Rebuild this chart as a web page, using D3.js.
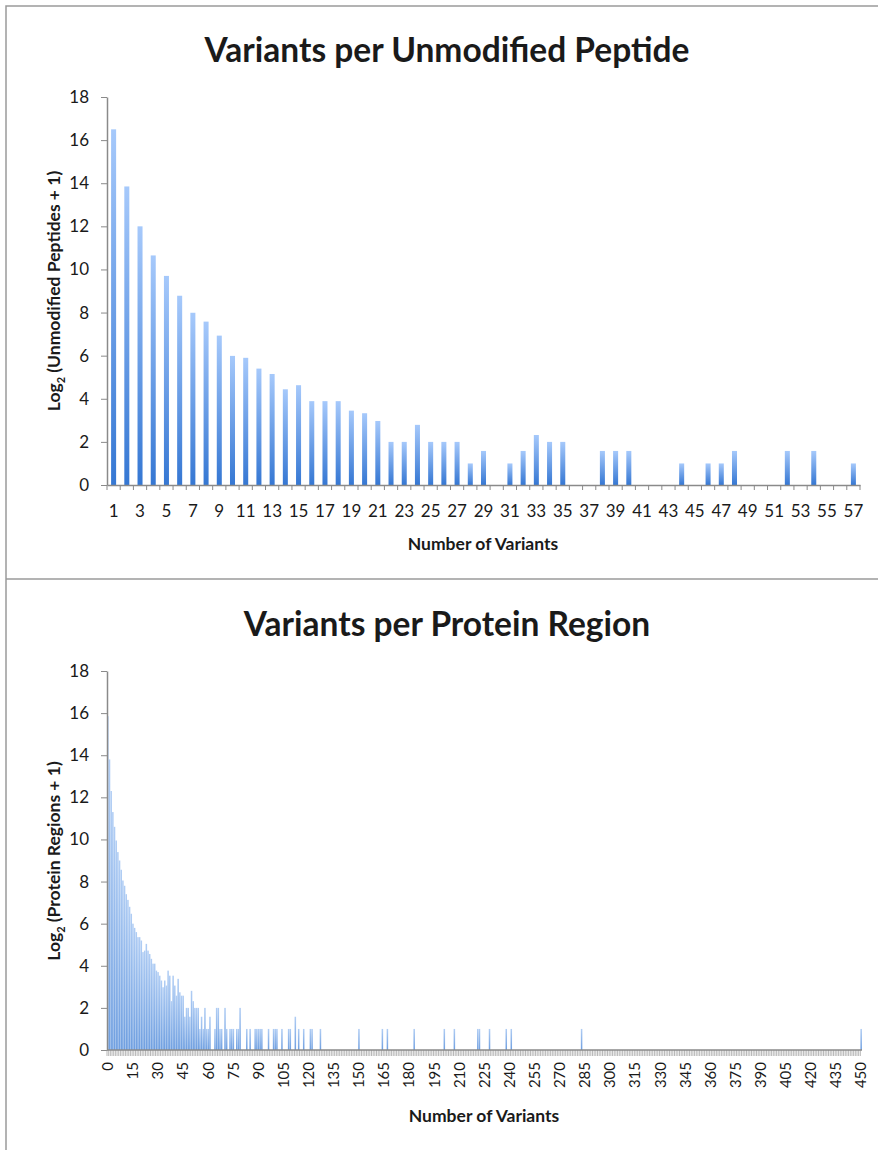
<!DOCTYPE html>
<html>
<head>
<meta charset="utf-8">
<script src="https://d3js.org/d3.v7.min.js"></script>
<style>
body { margin: 0; background: #fff; }
svg text { font-family: Lato, "Open Sans", sans-serif; fill: #1a1a1a; }
.title { font-size: 33.5px; font-weight: bold; }
.axis-title { font-size: 17.5px; font-weight: bold; }
.frame { stroke: #9a9a9a; stroke-width: 1.5px; fill: none; }
.axis path, .axis line { stroke: #8a8a8a; }
.axis path { stroke-width: 1.5px; }
.axis text { font-size: 17px; fill: #1a1a1a; }
.btick { stroke: #8a8a8a; stroke-width: 1px; }
.dtick { stroke: #9a9a9a; stroke-width: 0.7px; }
</style>
</head>
<body>
<script>

// top chart: variants per unmodified peptide
var peptideCounts = [1,2,3,4,5,6,7,8,9,10,11,12,13,14,15,16,17,18,19,20,
  21,22,23,24,25,26,27,28,29,30,31,32,33,34,35,36,37,38,39,40,
  41,42,43,44,45,46,47,48,49,50,51,52,53,54,55,56,57];
var peptideLog = [16.5, 13.85, 12.0, 10.65, 9.7, 8.78, 7.99, 7.58, 6.93, 5.99,
  5.9, 5.4, 5.15, 4.44, 4.63, 3.89, 3.89, 3.89, 3.45, 3.33,
  2.97, 2.0, 2.0, 2.79, 2.0, 2.0, 2.0, 1.0, 1.58, 0,
  1.0, 1.58, 2.32, 2.0, 2.0, 0, 0, 1.58, 1.58, 1.58,
  0, 0, 0, 1.0, 0, 1.0, 1.0, 1.58, 0, 0,
  0, 1.58, 0, 1.58, 0, 0, 1.0];

// bottom chart: variants per protein region (0..127 read bar by bar)
var regionHead = [15.85, 13.8, 12.3, 11.3, 10.6, 9.95, 9.4, 9.0, 8.56, 8.05,
  7.8, 7.4, 7.13, 6.8, 6.47, 6.0, 5.8, 5.6, 5.36, 5.36,
  5.2, 4.65, 4.72, 5.04, 4.72, 4.56, 4.33, 4.1, 4.1, 3.77,
  3.7, 3.53, 3.3, 2.98, 3.3, 3.06, 3.77, 3.53, 2.32, 3.53,
  3.06, 2.58, 3.38, 2.74, 2.58, 2.58, 1.58, 2.0, 2.0, 1.58,
  2.81, 2.32, 2.0, 2.0, 2.0, 1.0, 1.58, 1.0, 2.0, 1.0,
  1.0, 1.58, 0, 0, 1.0, 2.0, 2.0, 1.0, 1.0, 0,
  2.0, 1.0, 0, 1.0, 1.0, 1.0, 0, 1.0, 1.0, 2.0,
  0, 0, 0, 1.0, 0, 1.0, 0, 0, 1.0, 1.0,
  1.0, 1.0, 1.0, 0, 0, 0, 1.0, 0, 0, 1.0,
  1.0, 1.0, 0, 0, 1.0, 0, 0, 0, 1.0, 1.0,
  0, 0, 1.58, 0, 1.0, 0, 0, 1.0, 0, 0,
  0, 1.0, 1.0, 0, 0, 0, 0, 1.0];
// sparse tail: [number of variants, value]
var regionTail = [[150,1],[164,1],[167,1],[183,1],[201,1],[207,1],[221,1],[222,1],
  [228,1],[238,1],[241,1],[283,1],[450,1]];
var regionCounts = d3.range(0, 451);
var regionTicks = [0,15,30,45,60,75,90,105,120,135,150,165,180,195,210,225,240,
  255,270,285,300,315,330,345,360,375,390,405,420,435,450];
var yTicks = [0,2,4,6,8,10,12,14,16,18];

var width = 878, height = 1150;

var svg = d3.select("body").append("svg")
    .attr("width", width)
    .attr("height", height);

var defs = svg.append("defs");
var g1 = defs.append("linearGradient").attr("id", "barTop")
    .attr("x1", 0).attr("y1", 0).attr("x2", 0).attr("y2", 1);
g1.append("stop").attr("offset", "0%").attr("stop-color", "#a6c9fb");
g1.append("stop").attr("offset", "100%").attr("stop-color", "#3577d3");
var g2 = defs.append("linearGradient").attr("id", "barBottom")
    .attr("x1", 0).attr("y1", 0).attr("x2", 0).attr("y2", 1);
g2.append("stop").attr("offset", "0%").attr("stop-color", "#b0cdf4");
g2.append("stop").attr("offset", "100%").attr("stop-color", "#6f9fe0");

// frame around the two panels
svg.append("path").attr("class", "frame")
    .attr("d", "M6,1150 V6 H878 M6,579 H878");

// ---------- top chart ----------
var x1 = d3.scaleBand().domain(peptideCounts).range([107, 860]);
var y1 = d3.scaleLinear().domain([0, 18]).range([485, 97]);
var bw1 = x1.bandwidth();

svg.append("text").attr("class", "title")
    .attr("x", 447).attr("y", 62).attr("text-anchor", "middle")
    .text("Variants per Unmodified Peptide");

svg.append("g").selectAll("rect")
    .data(peptideLog)
    .enter().append("rect")
    .attr("x", function(d, i) { return x1(peptideCounts[i]) + bw1 * 0.31; })
    .attr("width", bw1 * 0.38)
    .attr("y", function(d) { return y1(d); })
    .attr("height", function(d) { return y1(0) - y1(d); })
    .attr("fill", "url(#barTop)");

svg.append("g").attr("class", "axis")
    .attr("transform", "translate(107,0)")
    .call(d3.axisLeft(y1).tickValues(yTicks).tickSize(6).tickSizeOuter(0).tickPadding(12));

svg.append("g").attr("class", "axis")
    .attr("transform", "translate(0,485)")
    .call(d3.axisBottom(x1).tickSize(0).tickSizeOuter(0).tickPadding(20)
      .tickFormat(function(d) { return d % 2 === 1 ? d : ""; }));

svg.append("g").selectAll("line")
    .data(peptideCounts.concat(["end"]))
    .enter().append("line").attr("class", "btick")
    .attr("x1", function(d) { return d === "end" ? x1.range()[1] : x1(d); })
    .attr("x2", function(d) { return d === "end" ? x1.range()[1] : x1(d); })
    .attr("y1", 485).attr("y2", 490);

svg.append("text").attr("class", "axis-title")
    .attr("x", 483).attr("y", 550).attr("text-anchor", "middle")
    .text("Number of Variants");

var yt1 = svg.append("text").attr("class", "axis-title")
    .attr("transform", "translate(60,291) rotate(-90)")
    .attr("text-anchor", "middle");
yt1.append("tspan").text("Log");
yt1.append("tspan").attr("font-size", "11px").attr("dy", 5).text("2");
yt1.append("tspan").attr("dy", -5).text(" (Unmodified Peptides + 1)");

// ---------- bottom chart ----------
var regionLog = regionCounts.map(function(k) {
  if (k < regionHead.length) return regionHead[k];
  var hit = regionTail.find(function(p) { return p[0] === k; });
  return hit ? hit[1] : 0;
});

var x2 = d3.scaleBand().domain(regionCounts).range([107, 862]);
var y2 = d3.scaleLinear().domain([0, 18]).range([1050, 671]);
var bw2 = x2.bandwidth();

svg.append("text").attr("class", "title")
    .attr("x", 447).attr("y", 636).attr("text-anchor", "middle")
    .text("Variants per Protein Region");

svg.append("g").selectAll("rect")
    .data(regionLog)
    .enter().append("rect")
    .attr("x", function(d, i) { return x2(regionCounts[i]) + bw2 * 0.05; })
    .attr("width", bw2 * 0.9)
    .attr("y", function(d) { return y2(d); })
    .attr("height", function(d) { return y2(0) - y2(d); })
    .attr("fill", "url(#barBottom)");

svg.append("g").attr("class", "axis")
    .attr("transform", "translate(107,0)")
    .call(d3.axisLeft(y2).tickValues(yTicks).tickSize(6).tickSizeOuter(0).tickPadding(12));

svg.append("g").selectAll("line")
    .data(regionCounts)
    .enter().append("line").attr("class", "dtick")
    .attr("x1", function(d) { return x2(d); })
    .attr("x2", function(d) { return x2(d); })
    .attr("y1", 1050).attr("y2", 1056);

svg.append("line").attr("class", "btick")
    .attr("x1", 107).attr("x2", 862).attr("y1", 1050).attr("y2", 1050)
    .style("stroke-width", "1.5px");

svg.append("g").selectAll("text")
    .data(regionTicks)
    .enter().append("text")
    .attr("transform", function(d) {
      return "translate(" + (x2(d) + bw2 / 2) + ",1062) rotate(-90)";
    })
    .attr("text-anchor", "end")
    .attr("dy", "0.35em")
    .style("font-size", "15px")
    .text(function(d) { return d; });

svg.append("text").attr("class", "axis-title")
    .attr("x", 484).attr("y", 1122).attr("text-anchor", "middle")
    .text("Number of Variants");

var yt2 = svg.append("text").attr("class", "axis-title")
    .attr("transform", "translate(60,861) rotate(-90)")
    .attr("text-anchor", "middle");
yt2.append("tspan").text("Log");
yt2.append("tspan").attr("font-size", "11px").attr("dy", 5).text("2");
yt2.append("tspan").attr("dy", -5).text(" (Protein Regions + 1)");

</script>
</body>
</html>
